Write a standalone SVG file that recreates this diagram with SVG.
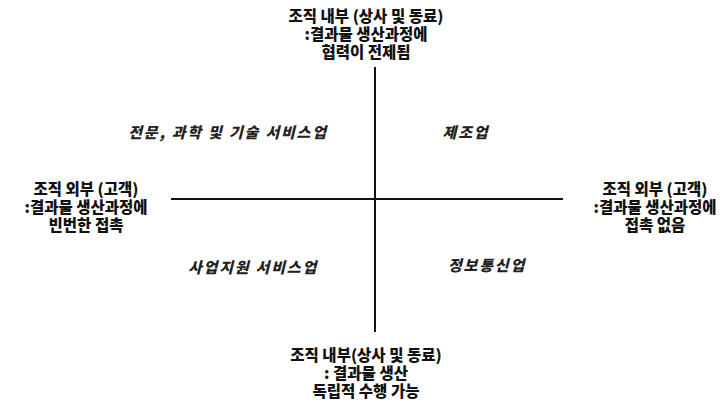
<svg xmlns="http://www.w3.org/2000/svg" width="728" height="400" viewBox="0 0 728 400">
<style>
.lbl{font-family:"Noto Sans CJK KR","Noto Sans",sans-serif;font-weight:900;font-size:15.5px;fill:#111;text-anchor:middle}
.q{font-family:"Noto Sans CJK KR","Noto Sans",sans-serif;font-weight:900;font-style:italic;font-size:15px;letter-spacing:1.8px;fill:#222;text-anchor:middle}
.ax{stroke:#111;stroke-width:2;fill:none}
</style>
<rect width="728" height="400" fill="#fff"/>
<g id="axes">
<line class="ax" x1="375" y1="67" x2="375" y2="332"/>
<line class="ax" x1="171" y1="199" x2="563" y2="199"/>
</g>
<g id="top">
<text class="lbl" x="366" y="22">조직 내부 (상사 및 동료)</text>
<text class="lbl" x="366" y="40">:결과물 생산과정에</text>
<text class="lbl" x="366" y="58">협력이 전제됨</text>
</g>
<g id="left">
<text class="lbl" x="86" y="195">조직 외부 (고객)</text>
<text class="lbl" x="86" y="213">:결과물 생산과정에</text>
<text class="lbl" x="86" y="231">빈번한 접촉</text>
</g>
<g id="right">
<text class="lbl" x="655" y="195">조직 외부 (고객)</text>
<text class="lbl" x="655" y="213">:결과물 생산과정에</text>
<text class="lbl" x="655" y="231">접촉 없음</text>
</g>
<g id="bottom">
<text class="lbl" x="366" y="361">조직 내부(상사 및 동료)</text>
<text class="lbl" x="366" y="379">: 결과물 생산</text>
<text class="lbl" x="366" y="397">독립적 수행 가능</text>
</g>
<g id="q1"><text class="q" x="228" y="138">전문, 과학 및 기술 서비스업</text></g>
<g id="q2"><text class="q" x="466" y="138">제조업</text></g>
<g id="q3"><text class="q" x="253" y="273">사업지원 서비스업</text></g>
<g id="q4"><text class="q" x="487" y="271">정보통신업</text></g>
</svg>
